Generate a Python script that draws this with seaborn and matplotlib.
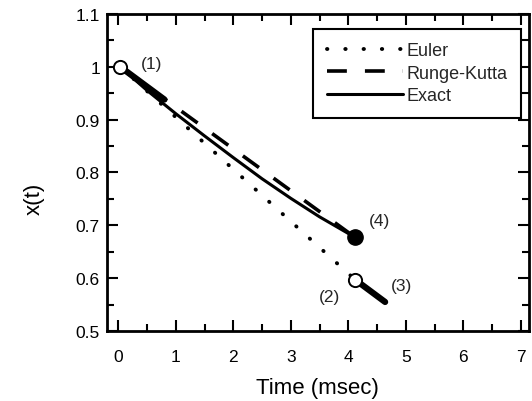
import matplotlib
matplotlib.use("Agg")
import matplotlib.pyplot as plt
from matplotlib.ticker import MultipleLocator, FixedLocator, FixedFormatter
import seaborn as sns
import pandas as pd

# --- data -------------------------------------------------------------
exact_t = [0.03, 0.5, 1.0, 1.5, 2.0, 2.5, 3.0, 3.5, 4.12]
exact_x = [1.0, 0.955, 0.911, 0.869, 0.828, 0.788, 0.751, 0.716, 0.677]

euler_t = [0.03, 4.12]
euler_x = [1.0, 0.597]

rk_t = [0.03, 4.12]
rk_x = [1.0, 0.677]

# slope segments drawn at the start point and at the Euler step
slope1_t = [0.03, 0.80]
slope1_x = [1.0, 0.938]
slope3_t = [4.12, 4.64]
slope3_x = [0.597, 0.555]

point_labels = ["(1)", "(2)", "(3)", "(4)"]
label_pos = [(0.57, 1.006), (3.67, 0.566), (4.92, 0.586), (4.55, 0.709)]

y_ticks = [0.5, 0.6, 0.7, 0.8, 0.9, 1.0, 1.1]
y_ticklabels = ["0.5", "0.6", "0.7", "0.8", "0.9", "1", "1.1"]
x_ticks = [0, 1, 2, 3, 4, 5, 6, 7]

# --- figure -----------------------------------------------------------
sns.set_theme(style="ticks")
plt.rcParams["font.family"] = ["Liberation Sans", "DejaVu Sans"]

fig = plt.figure(figsize=(5.32, 4.02), dpi=100)
ax = fig.add_axes([0.201, 0.174, 0.793, 0.789])

df_e = pd.DataFrame({"t": euler_t, "x": euler_x})
df_r = pd.DataFrame({"t": rk_t, "x": rk_x})
df_x = pd.DataFrame({"t": exact_t, "x": exact_x})

sns.lineplot(data=df_e, x="t", y="x", ax=ax, color="black", lw=2.8,
             linestyle=(0, (0.1, 4.6)), dash_capstyle="round", label="Euler")
sns.lineplot(data=df_r, x="t", y="x", ax=ax, color="black", lw=2.6,
             linestyle=(0, (5.5, 5.0)), label="Runge-Kutta")
sns.lineplot(data=df_x, x="t", y="x", ax=ax, color="black", lw=2.2,
             linestyle="-", label="Exact")

sns.lineplot(x=slope1_t, y=slope1_x, ax=ax, color="black", lw=4.5,
             solid_capstyle="round", legend=False)
sns.lineplot(x=slope3_t, y=slope3_x, ax=ax, color="black", lw=4.5,
             solid_capstyle="round", legend=False)

# marked points
ax.plot(euler_t[0], euler_x[0], "o", ms=9.5, mfc="white", mec="black",
        mew=1.4, zorder=5)
ax.plot(euler_t[-1], euler_x[-1], "o", ms=9.5, mfc="white", mec="black",
        mew=1.4, zorder=5)
ax.plot(rk_t[-1], rk_x[-1], "o", ms=11, mfc="black", mec="black", zorder=5)

for lab, (tx, ty) in zip(point_labels, label_pos):
    ax.text(tx, ty, lab, fontsize=12.5, ha="center", va="center")

# axes
ax.set_xlim(-0.2, 7.14)
ax.set_ylim(0.5, 1.1)
ax.xaxis.set_major_locator(FixedLocator(x_ticks))
ax.xaxis.set_minor_locator(MultipleLocator(0.5))
ax.yaxis.set_major_locator(FixedLocator(y_ticks))
ax.yaxis.set_major_formatter(FixedFormatter(y_ticklabels))
ax.yaxis.set_minor_locator(MultipleLocator(0.05))
ax.tick_params(which="both", direction="in", top=True, right=True,
               color="black", width=1.5, labelsize=12.5, labelcolor="black")
ax.tick_params(which="major", length=8)
ax.tick_params(which="minor", length=5)
ax.tick_params(axis="x", which="major", pad=13)
ax.tick_params(axis="y", which="major", pad=5)
for s in ax.spines.values():
    s.set_linewidth(2.0)
    s.set_color("black")
    s.set_visible(True)

ax.set_xlabel("Time (msec)", fontsize=16, labelpad=9, color="black")
ax.set_ylabel("x(t)", fontsize=16, color="black")
ax.yaxis.set_label_coords(-0.147, 0.42)

leg = ax.legend(loc="upper right", bbox_to_anchor=(0.981, 0.953),
                borderaxespad=0, frameon=True, fancybox=False,
                edgecolor="black", fontsize=13, handlelength=4.2,
                handletextpad=0.2, labelspacing=0.3, borderpad=0.75)
leg.get_frame().set_linewidth(1.5)
leg.get_frame().set_alpha(1)

fig.savefig("out.png", dpi=100)
